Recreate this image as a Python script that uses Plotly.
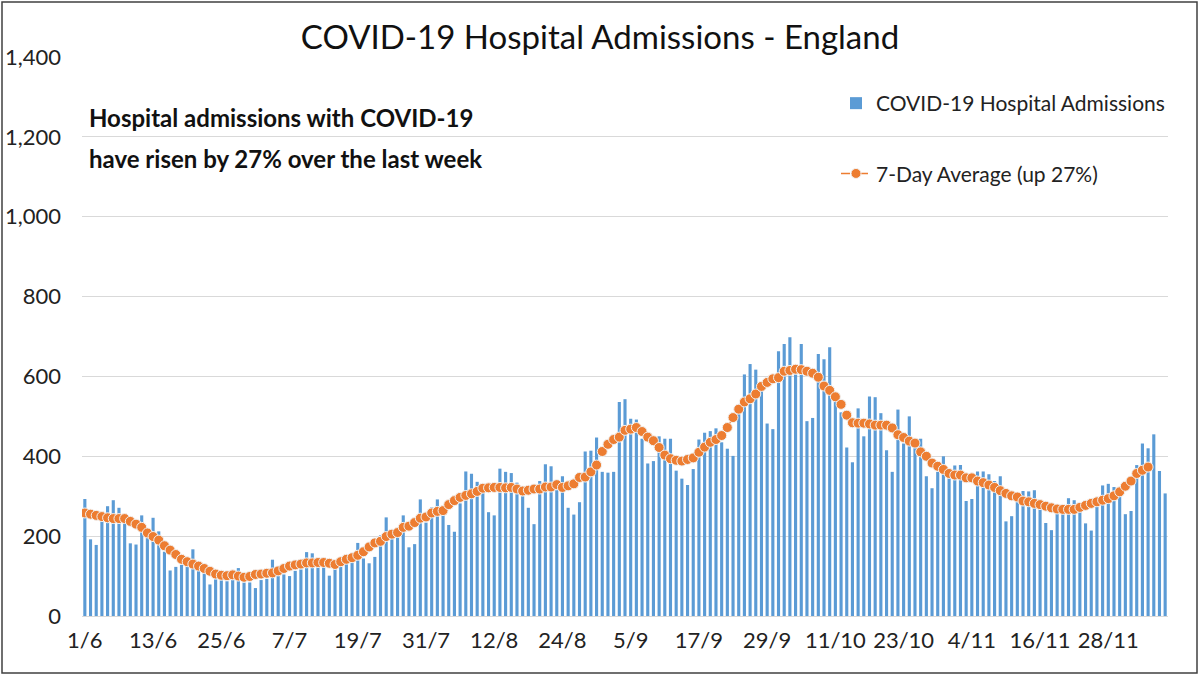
import pandas as pd
import plotly.graph_objects as go

# ---- data ----
start_date = "2021-06-01"

admissions = [
    # 1/6 - 20/6
    293, 192, 178, 240, 275, 290, 271, 248, 182, 179, 252, 215, 246, 212, 161, 114, 123, 128, 148, 167,
    # 21/6 - 10/7
    115, 107, 79, 92, 90, 87, 90, 120, 84, 84, 70, 90, 93, 141, 100, 104, 100, 113, 117, 160,
    # 11/7 - 30/7
    157, 132, 125, 101, 120, 123, 136, 136, 183, 144, 132, 148, 202, 247, 194, 198, 252, 172, 180, 292,
    # 31/7 - 19/8
    234, 272, 292, 265, 228, 211, 282, 362, 356, 336, 320, 260, 252, 369, 361, 358, 334, 300, 271, 230,
    # 20/8 - 8/9
    338, 380, 375, 315, 350, 271, 254, 285, 412, 414, 447, 361, 359, 361, 536, 543, 494, 492, 444, 382,
    # 9/9 - 28/9
    388, 450, 444, 444, 364, 344, 328, 368, 442, 459, 463, 470, 435, 419, 401, 507, 605, 631, 617, 575,
    # 29/9 - 18/10
    482, 468, 663, 681, 698, 605, 681, 488, 496, 656, 643, 673, 540, 510, 422, 385, 520, 450, 550, 548,
    # 19/10 - 7/11
    508, 415, 361, 517, 432, 500, 440, 444, 350, 320, 361, 400, 369, 377, 378, 288, 293, 362, 362, 355,
    # 8/11 - 27/11
    338, 350, 237, 250, 300, 313, 312, 315, 286, 233, 215, 265, 269, 295, 290, 265, 232, 214, 298, 327,
    # 28/11 - 8/12
    331, 323, 310, 255, 263, 378, 432, 420, 455, 363, 307,
]

avg_7day = [
    258, 255, 252, 249, 246, 244, 244, 244, 237, 230, 222, 208, 199, 190, 176, 165, 154, 142, 136, 130,
    125, 119, 112, 105, 102, 101, 103, 100, 97, 99, 104, 105, 107, 108, 113, 119, 125, 128, 130, 133,
    133, 134, 134, 132, 129, 136, 142, 146, 152, 161, 173, 183, 187, 199, 205, 209, 222, 225, 234, 245,
    248, 258, 262, 264, 279, 289, 297, 302, 306, 312, 320, 321, 322, 322, 321, 322, 318, 313, 315, 318,
    318, 323, 323, 329, 322, 326, 331, 347, 348, 361, 378, 412, 430, 442, 448, 465, 468, 472, 462, 448,
    439, 422, 403, 394, 390, 388, 392, 396, 410, 423, 435, 442, 452, 472, 497, 518, 536, 544, 556, 575,
    585, 594, 597, 613, 615, 618, 617, 613, 608, 598, 576, 565, 549, 530, 503, 484, 483, 483, 481, 478,
    478, 478, 471, 454, 447, 438, 433, 411, 400, 383, 375, 367, 357, 353, 353, 346, 346, 338, 334, 328,
    322, 314, 307, 301, 298, 288, 286, 282, 279, 275, 271, 268, 267, 267, 267, 272, 277, 282, 286, 290,
    294, 301, 311, 325, 338, 357, 365, 373,
]

tick_labels = ["1/6", "13/6", "25/6", "7/7", "19/7", "31/7", "12/8", "24/8", "5/9",
               "17/9", "29/9", "11/10", "23/10", "4/11", "16/11", "28/11"]

title_text = "COVID-19 Hospital Admissions - England"
note_lines = ["Hospital admissions with COVID-19", "have risen by 27% over the last week"]
bar_name = "COVID-19 Hospital Admissions"
line_name = "7-Day Average (up 27%)"

# ---- build figure ----
dates = pd.date_range(start_date, periods=len(admissions), freq="D")
avg_dates = dates[: len(avg_7day)]
tick_vals = [dates[i * 12] for i in range(len(tick_labels))]

FONT = "Lato"
W, H = 1200, 675
ML, MR, MT, MB = 82, 32, 57, 59
PW, PH = W - ML - MR, H - MT - MB


def px_x(x):
    return (x - ML) / PW


def px_y(y):
    return (H - MB - y) / PH


fig = go.Figure()
fig.add_trace(go.Bar(
    x=dates, y=admissions, name=bar_name,
    marker=dict(color="#5B9BD5", line=dict(width=0)),
    legendgroup="a",
))
fig.add_trace(go.Scatter(
    x=avg_dates, y=avg_7day, name=line_name, mode="lines+markers",
    line=dict(color="#ED7D31", width=1.5, dash="dash"),
    marker=dict(color="#ED7D31", size=10, line=dict(color="#F2F2F2", width=1)),
    legendgroup="b",
))

half_day = pd.Timedelta(hours=12)
fig.update_layout(
    width=W, height=H,
    margin=dict(l=ML, r=MR, t=MT, b=MB, autoexpand=False),
    paper_bgcolor="white", plot_bgcolor="white",
    font=dict(family=FONT, color="#222222"),
    bargap=0.45,
    title=dict(text=title_text, x=0.5, xanchor="center", xref="container",
               y=1 - 37 / H, yanchor="middle",
               font=dict(family=FONT, size=33, color="#111111")),
    xaxis=dict(
        range=[dates[0] - half_day, dates[-1] + half_day],
        tickvals=tick_vals, ticktext=tick_labels,
        showgrid=False, showline=True, linecolor="#D9D9D9", linewidth=1,
        ticks="", tickfont=dict(size=22, color="#222222"),
        ticklabelstandoff=5, automargin=False,
    ),
    yaxis=dict(
        range=[0, 1400], dtick=200, tickformat=",",
        showgrid=True, gridcolor="#D9D9D9", gridwidth=1,
        zeroline=False, showline=False, ticks="",
        tickfont=dict(size=22, color="#222222"),
        ticklabelstandoff=20, automargin=False,
    ),
    legend=dict(
        x=px_x(836), y=px_y(83), xanchor="left", yanchor="top",
        bgcolor="rgba(0,0,0,0)", font=dict(size=21, family=FONT, color="#222222"),
        tracegroupgap=40, traceorder="grouped",
    ),
    showlegend=True,
)

for i, line in enumerate(note_lines):
    fig.add_annotation(
        text="<b>" + line + "</b>", xref="paper", yref="paper",
        x=px_x(87), y=px_y(117 + 41 * i), xanchor="left", yanchor="middle",
        showarrow=False, font=dict(size=24, family=FONT, color="#111111"),
    )

# outer frame of the picture
fig.add_shape(type="rect", xref="paper", yref="paper",
              x0=px_x(2), x1=px_x(1197), y0=px_y(673), y1=px_y(2),
              line=dict(color="#404040", width=1.5), fillcolor="rgba(0,0,0,0)")

fig.write_html("out.html")
